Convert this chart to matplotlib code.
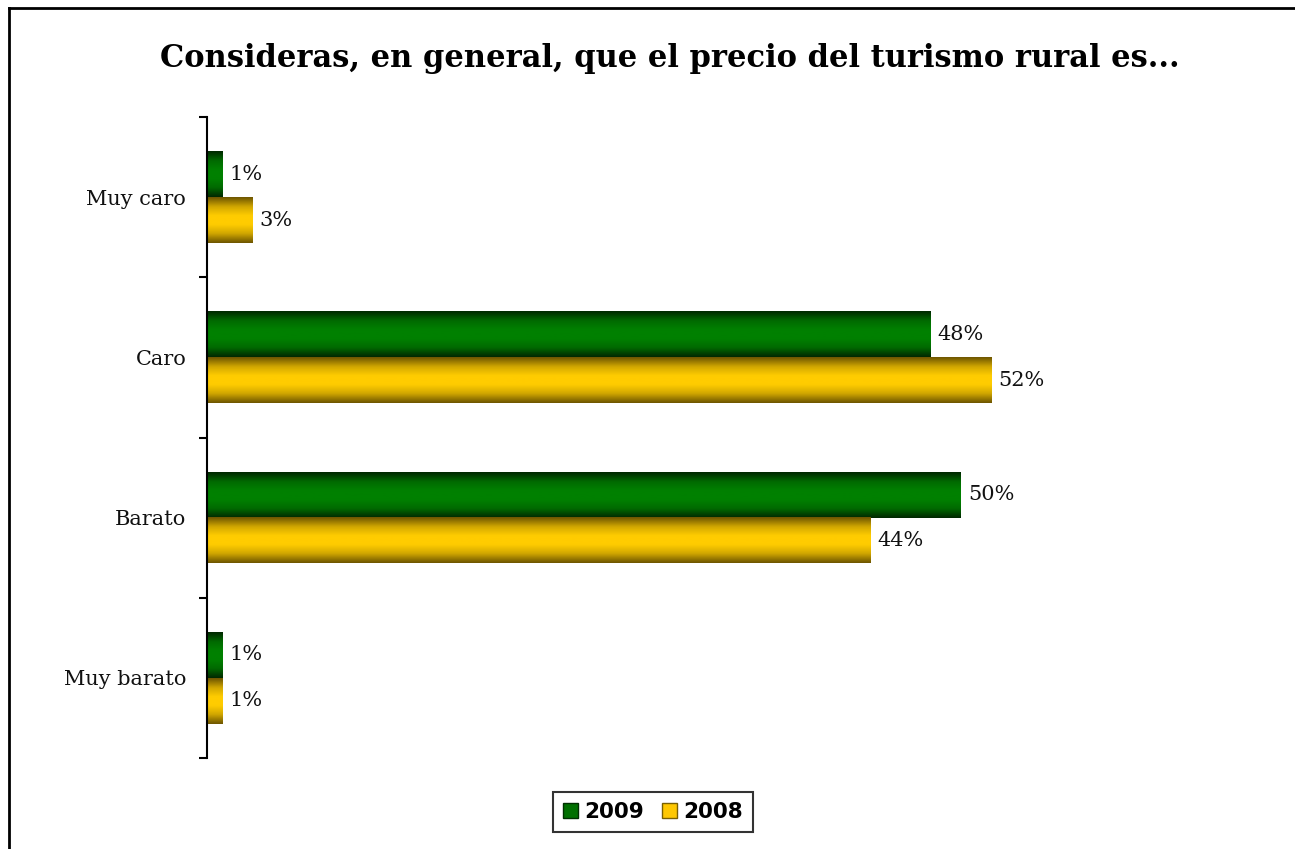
import numpy as np
import matplotlib
matplotlib.use("Agg")
import matplotlib.pyplot as plt
from matplotlib.colors import LinearSegmentedColormap
from matplotlib.patches import Patch
from matplotlib.lines import Line2D

# datos
categorias = ["Muy caro", "Caro", "Barato", "Muy barato"]
valores_2009 = [1, 48, 50, 1]
valores_2008 = [3, 52, 44, 1]
series = ["2009", "2008"]

# degradados tipo "cilindro" (oscuro en bordes, claro en el centro)
cmap_verde = LinearSegmentedColormap.from_list(
    "verde", ["#002800", "#006a00", "#008000", "#008000", "#006a00", "#002800"])
cmap_amarillo = LinearSegmentedColormap.from_list(
    "amarillo", ["#6e5600", "#d0a600", "#ffcc00", "#ffcc00", "#d0a600", "#6e5600"])

fig = plt.figure(figsize=(12.95, 8.49), dpi=100, facecolor="white")
ax = fig.add_axes([207 / 1295, 1 - 758 / 849, (1267 - 207) / 1295, (758 - 117) / 849])

n = len(categorias)
y = np.arange(n)
alto = 1 / 3.5  # gap width 150%

b1 = ax.barh(y - alto / 2, valores_2009, height=alto, color="none")
b2 = ax.barh(y + alto / 2, valores_2008, height=alto, color="none")

grad = np.linspace(0, 1, 64).reshape(-1, 1)
for barras, cmap in [(b1, cmap_verde), (b2, cmap_amarillo)]:
    for p in barras:
        x0, y0 = p.get_x(), p.get_y()
        w, h = p.get_width(), p.get_height()
        ax.imshow(grad, cmap=cmap, aspect="auto", interpolation="bicubic",
                  extent=(x0, x0 + w, y0 + h, y0), zorder=2)
        ax.annotate(f"{w:.0f}%", (x0 + w, y0 + h / 2), xytext=(5, 0),
                    textcoords="offset points", va="center", ha="left",
                    fontsize=15, family="DejaVu Serif", color="#111111")

ax.set_xlim(0, 70.3)
ax.set_ylim(n - 0.5, -0.5)

for s in ["top", "right", "bottom"]:
    ax.spines[s].set_visible(False)
ax.spines["left"].set_linewidth(1.5)
ax.set_xticks([])

ax.set_yticks(y)
ax.set_yticklabels(categorias, fontsize=15, family="DejaVu Serif", color="#111111")
ax.tick_params(axis="y", which="major", length=0, pad=15)
ax.set_yticks(np.arange(n + 1) - 0.5, minor=True)
ax.tick_params(axis="y", which="minor", length=6, width=1.5)

fig.text(670 / 1295, 1 - 58 / 849, "Consideras, en general, que el precio del turismo rural es...",
         ha="center", va="center", fontsize=22, fontweight="bold", family="DejaVu Serif")

handles = [Patch(facecolor="#007000", edgecolor="#003000"),
           Patch(facecolor="#ffc800", edgecolor="#7a6000")]
leg = fig.legend(handles, series, loc="center", bbox_to_anchor=(653 / 1295, 1 - 812 / 849),
                 ncol=2, frameon=True, fancybox=False, edgecolor="black",
                 prop={"family": "DejaVu Sans", "weight": "bold", "size": 15.5},
                 handlelength=0.7, handleheight=0.7, handletextpad=0.3,
                 columnspacing=0.8, borderpad=0.45, borderaxespad=0)
leg.get_frame().set_linewidth(1.5)

# marco exterior (solo arriba e izquierda visibles)
fig.add_artist(Line2D([9 / 1295, 9 / 1295], [0, 1 - 8 / 849], color="black", lw=2))
fig.add_artist(Line2D([9 / 1295, 1], [1 - 8 / 849, 1 - 8 / 849], color="black", lw=2))

fig.savefig("out.png", dpi=100, facecolor="white")
